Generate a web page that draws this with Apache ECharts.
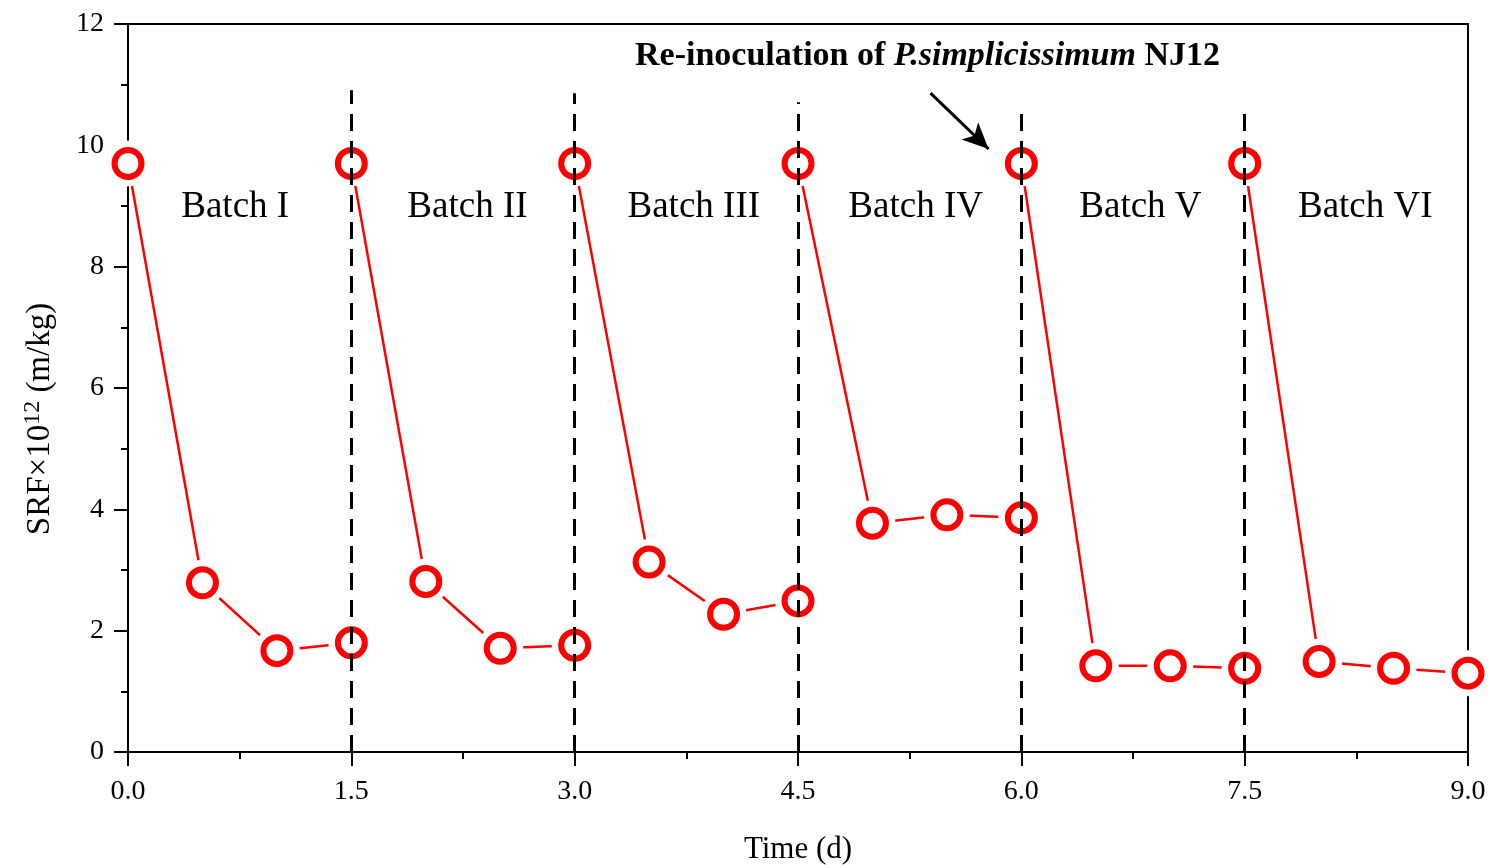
<!DOCTYPE html>
<html>
<head>
<meta charset="utf-8">
<title>SRF batches</title>
<script src="https://cdn.jsdelivr.net/npm/echarts@6/dist/echarts.min.js"></script>
<style>
  html, body { margin: 0; padding: 0; background: #fff; }
  #chart { width: 1489px; height: 865px; }
</style>
</head>
<body>
<div id="chart"></div>
<script>
// 数据
var batchNames = ['Batch I', 'Batch II', 'Batch III', 'Batch IV', 'Batch V', 'Batch VI'];
var batchTimes = [
  [0.0, 0.5, 1.0, 1.5],
  [1.5, 2.0, 2.5, 3.0],
  [3.0, 3.5, 4.0, 4.5],
  [4.5, 5.0, 5.5, 6.0],
  [6.0, 6.5, 7.0, 7.5],
  [7.5, 8.0, 8.5, 9.0]
];
var batchSRF = [
  [9.70, 2.79, 1.67, 1.80],
  [9.70, 2.81, 1.71, 1.76],
  [9.70, 3.13, 2.27, 2.49],
  [9.70, 3.77, 3.91, 3.86],
  [9.70, 1.42, 1.42, 1.38],
  [9.70, 1.49, 1.38, 1.30]
];
var xTicks = [0, 1.5, 3.0, 4.5, 6.0, 7.5, 9.0];
var yTicks = [0, 2, 4, 6, 8, 10, 12];
// 批次分界线（虚线）
var dividerX = [1.5, 3.0, 4.5, 6.0, 7.5];
var dividerTop = [10.91, 10.86, 10.71, 10.68, 10.61];
// 文字标注
var batchLabelX = [0.72, 2.28, 3.80, 5.29, 6.80, 8.31];
var batchLabelY = 8.98;
var noteText = ['Re-inoculation of ', 'P.simplicissimum', ' NJ12'];
var notePos = [5.37, 11.47];
var arrowFrom = [5.39, 10.86];
var arrowTo = [5.78, 9.94];

var FONT = '"Liberation Serif", "Times New Roman", serif';
var RED = '#ff0000';

var chart = echarts.init(document.getElementById('chart'));

function pts(i) {
  return batchTimes[i].map(function (t, j) { return [t, batchSRF[i][j]]; });
}
var allPts = [];
batchNames.forEach(function (n, i) { allPts = allPts.concat(pts(i)); });

var series = [];
// 每批次的折线
batchNames.forEach(function (name, i) {
  series.push({
    name: name,
    type: 'line',
    data: pts(i),
    symbol: 'none',
    z: 2,
    lineStyle: { color: RED, width: 2.5 }
  });
});
// 白色遮罩，让线和圆圈之间留空
series.push({
  type: 'scatter',
  data: allPts,
  symbol: 'circle',
  symbolSize: 46,
  z: 3,
  silent: true,
  itemStyle: { color: '#fff', opacity: 1 }
});
// 红色空心圆
series.push({
  type: 'scatter',
  data: allPts,
  symbol: 'circle',
  symbolSize: 27,
  z: 4,
  silent: true,
  itemStyle: { color: 'rgba(0,0,0,0)', borderColor: RED, borderWidth: 6, opacity: 1 }
});
// 虚线 + 箭头
series.push({
  type: 'line',
  data: [],
  z: 5,
  markLine: {
    silent: true,
    symbol: ['none', 'none'],
    label: { show: false },
    lineStyle: { color: '#000', width: 3, type: [17, 10], opacity: 1 },
    data: dividerX.map(function (x, i) {
      return [{ coord: [x, 0] }, { coord: [x, dividerTop[i]] }];
    }).concat([[
      { coord: arrowFrom, symbol: 'none', lineStyle: { type: 'solid', width: 3 } },
      { coord: arrowTo, symbol: 'arrow', symbolSize: [18, 26] }
    ]])
  }
});
// 批次文字
series.push({
  type: 'scatter',
  data: batchNames.map(function (n, i) { return { name: n, value: [batchLabelX[i], batchLabelY] }; }),
  symbolSize: 0,
  z: 6,
  silent: true,
  itemStyle: { opacity: 1 },
  label: {
    show: true,
    position: 'inside',
    formatter: '{b}',
    color: '#000',
    opacity: 1,
    fontFamily: FONT,
    fontSize: 37
  }
});
// 顶部说明
series.push({
  type: 'scatter',
  data: [{ name: 'note', value: notePos }],
  symbolSize: 0,
  z: 6,
  silent: true,
  itemStyle: { opacity: 1 },
  label: {
    show: true,
    position: 'inside',
    opacity: 1,
    formatter: '{b|' + noteText[0] + '}{i|' + noteText[1] + '}{b|' + noteText[2] + '}',
    rich: {
      b: { fontFamily: FONT, fontSize: 34, fontWeight: 'bold', color: '#000' },
      i: { fontFamily: FONT, fontSize: 34, fontWeight: 'bold', fontStyle: 'italic', color: '#000' }
    }
  }
});

chart.setOption({
  backgroundColor: '#fff',
  animation: false,
  grid: {
    left: 128, right: 21, top: 24, bottom: 113,
    outerBoundsMode: 'none',
    containLabel: false,
    show: true,
    borderColor: '#000',
    borderWidth: 2,
    backgroundColor: 'transparent'
  },
  xAxis: {
    type: 'value',
    min: xTicks[0],
    max: xTicks[xTicks.length - 1],
    interval: xTicks[1] - xTicks[0],
    name: 'Time (d)',
    nameLocation: 'middle',
    nameGap: 82,
    nameTextStyle: { fontFamily: FONT, fontSize: 31, color: '#000' },
    axisLine: { show: true, lineStyle: { color: '#000', width: 2 } },
    axisTick: { show: true, inside: false, length: 14, lineStyle: { color: '#000', width: 2 } },
    minorTick: { show: true, splitNumber: 2, length: 7, lineStyle: { color: '#000', width: 2 } },
    splitLine: { show: false },
    axisLabel: {
      margin: 26,
      fontFamily: FONT, fontSize: 28, color: '#000',
      formatter: function (v) { return v.toFixed(1); }
    }
  },
  yAxis: {
    type: 'value',
    min: yTicks[0],
    max: yTicks[yTicks.length - 1],
    interval: yTicks[1] - yTicks[0],
    name: '{a|SRF×10}{s|12}{a| (m/kg)}',
    nameLocation: 'middle',
    nameRotate: 90,
    nameGap: 69,
    nameTextStyle: {
      padding: [0, 62, 0, 0],
      rich: {
        a: { fontFamily: FONT, fontSize: 33, color: '#000' },
        s: { fontFamily: FONT, fontSize: 24, color: '#000', padding: [0, 0, 14, 0] }
      }
    },
    axisLine: { show: true, lineStyle: { color: '#000', width: 2 } },
    axisTick: { show: true, inside: false, length: 14, lineStyle: { color: '#000', width: 2 } },
    minorTick: { show: true, splitNumber: 2, length: 7, lineStyle: { color: '#000', width: 2 } },
    splitLine: { show: false },
    axisLabel: { margin: 24, fontFamily: FONT, fontSize: 28, color: '#000' }
  },
  series: series
});
</script>
</body>
</html>
